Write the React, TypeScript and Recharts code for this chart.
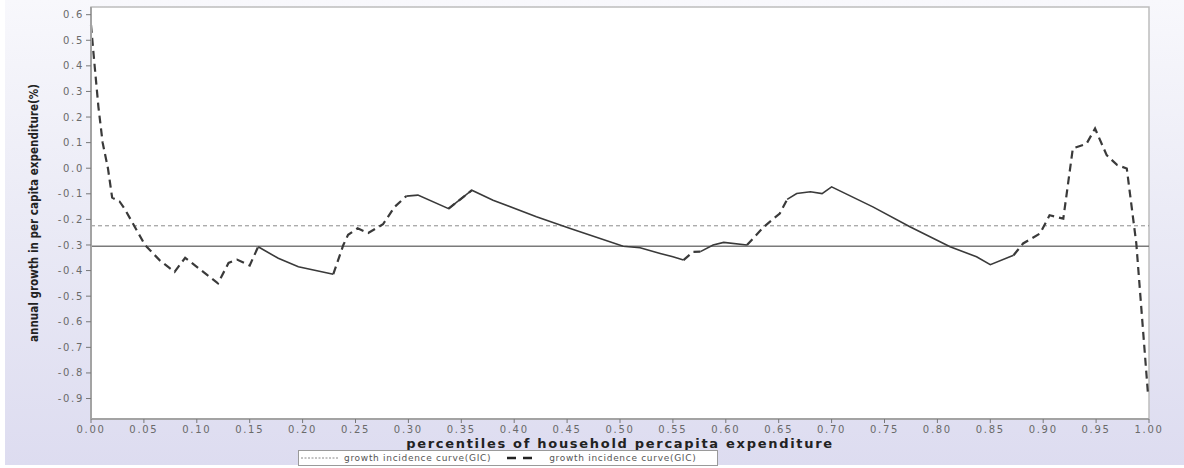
import React from 'react';
import {
  LineChart,
  Line,
  XAxis,
  YAxis,
  ReferenceLine,
  ReferenceArea,
} from 'recharts';

// percentile positions and GIC values
const percentiles = [
  0.0, 0.003, 0.007, 0.011, 0.016, 0.02, 0.027, 0.032, 0.051, 0.065, 0.079, 0.089,
  0.12, 0.13, 0.138, 0.15, 0.158, 0.177, 0.196, 0.229, 0.2385, 0.243, 0.252, 0.262,
  0.276, 0.287, 0.298, 0.309, 0.338, 0.36, 0.38, 0.421, 0.453, 0.503, 0.519, 0.538,
  0.55, 0.56, 0.569, 0.576, 0.588, 0.598, 0.62, 0.636, 0.651, 0.658, 0.667, 0.68,
  0.691, 0.7, 0.739, 0.774, 0.812, 0.837, 0.85, 0.872, 0.881, 0.897, 0.906, 0.919,
  0.928, 0.941, 0.949, 0.96, 0.97, 0.979, 0.988, 0.999,
];

const gicValues = [
  0.56, 0.42, 0.24, 0.1, 0.0, -0.115, -0.13, -0.16, -0.3, -0.36, -0.405, -0.35,
  -0.45, -0.37, -0.357, -0.38, -0.307, -0.352, -0.385, -0.414, -0.3, -0.26, -0.235, -0.253,
  -0.219, -0.151, -0.109, -0.105, -0.158, -0.086, -0.125, -0.19, -0.236, -0.305, -0.311, -0.333,
  -0.346, -0.359, -0.327, -0.326, -0.3, -0.29, -0.3, -0.229, -0.177, -0.122, -0.099, -0.092,
  -0.099, -0.073, -0.151, -0.229, -0.307, -0.346, -0.377, -0.34, -0.294, -0.255, -0.184, -0.197,
  0.077, 0.096, 0.155, 0.051, 0.012, -0.001, -0.294, -0.88,
];

// stretches where the original curve reads as an unbroken line
const solidSpans: [number, number][] = [
  [0.158, 0.229],
  [0.298, 0.338],
  [0.36, 0.56],
  [0.576, 0.62],
  [0.658, 0.872],
];

const meanGrowth = -0.225;
const medianGrowth = -0.305;

const xTicks = [
  0, 0.05, 0.1, 0.15, 0.2, 0.25, 0.3, 0.35, 0.4, 0.45, 0.5, 0.55, 0.6, 0.65, 0.7,
  0.75, 0.8, 0.85, 0.9, 0.95, 1,
];
const yTicks = [0.6, 0.5, 0.4, 0.3, 0.2, 0.1, 0, -0.1, -0.2, -0.3, -0.4, -0.5, -0.6, -0.7, -0.8, -0.9];

const Y_MIN = -0.98;
const Y_MAX = 0.63;

const inside = (p: number) => solidSpans.some(([a, b]) => p > a && p < b);
const onSpan = (p: number) => solidSpans.some(([a, b]) => p >= a && p <= b);

const data = percentiles.map((p, i) => ({
  p,
  dashed: inside(p) ? null : gicValues[i],
  solid: onSpan(p) ? gicValues[i] : null,
}));

const tickFont = {
  fontSize: 10,
  fill: '#6a6a6a',
  fontFamily: 'DejaVu Sans, Verdana, sans-serif',
  letterSpacing: 1.7,
};

function YTitle(props: any) {
  const vb = props.viewBox ?? { x: 0, y: 0, width: 0, height: 0 };
  const x = vb.x + 28;
  const y = vb.y + vb.height / 2;
  return (
    <text
      x={x}
      y={y}
      transform={`rotate(-90, ${x}, ${y})`}
      textAnchor="middle"
      dominantBaseline="central"
      fontFamily="'DejaVu Sans', sans-serif"
      fontWeight="bold"
      fontSize={13}
      textLength={258}
      lengthAdjust="spacingAndGlyphs"
      fill="#222"
    >
      annual growth in per capita expenditure(%)
    </text>
  );
}

function XTitle(props: any) {
  const vb = props.viewBox ?? { x: 0, y: 0, width: 0, height: 0 };
  return (
    <text
      x={vb.x + vb.width / 2}
      y={vb.y + 24}
      textAnchor="middle"
      dominantBaseline="central"
      fontFamily="DejaVu Sans, Verdana, sans-serif"
      fontWeight="bold"
      fontSize={13}
      letterSpacing={1.7}
      fill="#222"
    >
      percentiles of household percapita expenditure
    </text>
  );
}

function LegendBox() {
  const label: React.CSSProperties = {
    fontFamily: 'DejaVu Sans, Verdana, sans-serif',
    fontSize: 9,
    color: '#555',
    letterSpacing: 0.7,
    whiteSpace: 'nowrap',
  };
  return (
    <div
      style={{
        position: 'absolute',
        left: 298,
        top: 450,
        width: 420,
        height: 16,
        boxSizing: 'border-box',
        border: '1px solid #9a9a9a',
        background: '#fff',
        display: 'flex',
        alignItems: 'center',
      }}
    >
      <svg width={40} height={14} style={{ marginLeft: 2 }}>
        <line x1={0} y1={7} x2={37} y2={7} stroke="#888" strokeWidth={1} strokeDasharray="2 1.5" />
      </svg>
      <span style={{ ...label, marginLeft: 3 }}>growth incidence curve(GIC)</span>
      <svg width={30} height={14} style={{ marginLeft: 15 }}>
        <line x1={1} y1={7} x2={28} y2={7} stroke="#222" strokeWidth={2.5} strokeDasharray="9 7" />
      </svg>
      <span style={{ ...label, marginLeft: 13 }}>growth incidence curve(GIC)</span>
    </div>
  );
}

export default function App() {
  return (
    <div style={{ position: 'relative', width: 1184, height: 468, background: '#fff', overflow: 'hidden' }}>
      <style>{'body{margin:0}'}</style>
      <div
        style={{
          position: 'absolute',
          left: 5,
          top: 0,
          right: 0,
          bottom: 3,
          background: 'linear-gradient(to bottom, #f8f8fc 0%, #ebebf6 45%, #dddcf0 100%)',
        }}
      />
      <div style={{ position: 'absolute', left: 0, top: 0 }}>
        <LineChart
          width={1184}
          height={468}
          data={data}
          margin={{ top: 7, right: 35, bottom: 15, left: 5 }}
        >
          <ReferenceArea
            x1={0}
            x2={1}
            y1={Y_MIN}
            y2={Y_MAX}
            fill="#ffffff"
            fillOpacity={1}
            stroke="#bdbdbd"
            strokeWidth={1.5}
          />
          <XAxis
            type="number"
            dataKey="p"
            domain={[0, 1]}
            ticks={xTicks}
            interval={0}
            tickFormatter={(v: number) => v.toFixed(2)}
            tick={tickFont}
            tickSize={4}
            tickMargin={3}
            height={34}
            axisLine={{ stroke: '#a3a3a3', strokeWidth: 2 }}
            tickLine={{ stroke: '#777' }}
            label={{ content: (props: any) => <XTitle {...props} /> }}
          />
          <YAxis
            type="number"
            domain={[Y_MIN, Y_MAX]}
            ticks={yTicks}
            interval={0}
            allowDataOverflow
            tickFormatter={(v: number) => v.toFixed(1)}
            tick={tickFont}
            tickSize={5}
            tickMargin={2}
            width={86}
            axisLine={{ stroke: '#a3a3a3', strokeWidth: 2 }}
            tickLine={{ stroke: '#777' }}
            label={{ content: (props: any) => <YTitle {...props} /> }}
          />
          <ReferenceLine y={meanGrowth} stroke="#8c8c8c" strokeWidth={1} strokeDasharray="4 3" />
          <ReferenceLine y={medianGrowth} stroke="#7a7a7a" strokeWidth={1.5} />
          <Line
            type="linear"
            dataKey="dashed"
            stroke="#3a3a3a"
            strokeWidth={2.2}
            strokeDasharray="8 5"
            dot={false}
            activeDot={false}
            connectNulls={false}
            isAnimationActive={false}
          />
          <Line
            type="linear"
            dataKey="solid"
            stroke="#3a3a3a"
            strokeWidth={1.6}
            dot={false}
            activeDot={false}
            connectNulls={false}
            isAnimationActive={false}
          />
        </LineChart>
      </div>
      <LegendBox />
    </div>
  );
}
